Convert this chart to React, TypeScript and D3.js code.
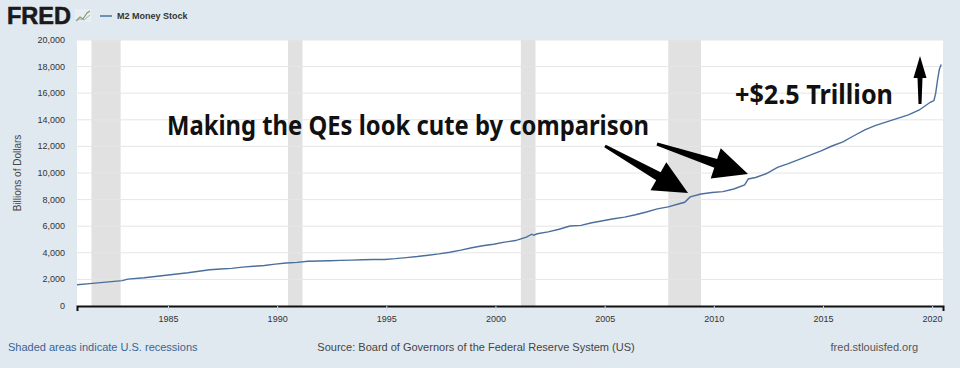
import * as d3 from "d3";
import { useEffect, useRef } from "react";

// M2 money stock, billions of dollars
const dates = [
  "1980-11", "1981-06", "1981-12", "1982-06", "1982-12", "1983-03", "1983-12",
  "1984-06", "1984-12", "1985-06", "1985-12", "1986-06", "1986-12", "1987-06",
  "1987-12", "1988-06", "1988-12", "1989-06", "1989-12", "1990-06", "1990-12",
  "1991-06", "1991-12", "1992-06", "1992-12", "1993-06", "1993-12", "1994-06",
  "1994-12", "1995-06", "1995-12", "1996-06", "1996-12", "1997-06", "1997-12",
  "1998-06", "1998-12", "1999-06", "1999-12", "2000-06", "2000-12", "2001-06",
  "2001-09", "2001-10", "2001-12", "2002-06", "2002-12", "2003-06", "2003-12",
  "2004-06", "2004-12", "2005-06", "2005-12", "2006-06", "2006-12", "2007-06",
  "2007-12", "2008-06", "2008-09", "2008-12", "2009-06", "2009-12", "2010-06",
  "2010-12", "2011-06", "2011-08", "2011-12", "2012-06", "2012-12", "2013-06",
  "2013-12", "2014-06", "2014-12", "2015-06", "2015-12", "2016-06", "2016-12",
  "2017-06", "2017-12", "2018-06", "2018-12", "2019-06", "2019-12", "2020-02",
  "2020-03", "2020-04", "2020-05", "2020-06",
];
const m2 = [
  1595, 1680, 1755, 1830, 1910, 2020, 2125,
  2220, 2310, 2410, 2500, 2610, 2730, 2780,
  2830, 2920, 2990, 3040, 3150, 3230, 3280,
  3360, 3380, 3400, 3430, 3450, 3480, 3500,
  3500, 3560, 3640, 3720, 3820, 3920, 4040,
  4200, 4380, 4530, 4640, 4800, 4920, 5180,
  5400, 5320, 5430, 5570, 5770, 6010, 6060,
  6260, 6410, 6560, 6680, 6860, 7070, 7300,
  7450, 7690, 7800, 8200, 8420, 8530, 8600,
  8800, 9100, 9550, 9660, 9960, 10430, 10710,
  11030, 11350, 11670, 12030, 12340, 12800, 13250,
  13580, 13850, 14110, 14370, 14740, 15320, 15450,
  16000, 17000, 17800, 18150,
];

const recessionStarts = ["1981-07", "1990-07", "2001-03", "2007-12"];
const recessionEnds = ["1982-11", "1991-03", "2001-11", "2009-06"];

const yTicks = [0, 2000, 4000, 6000, 8000, 10000, 12000, 14000, 16000, 18000, 20000];
const xTickYears = [1985, 1990, 1995, 2000, 2005, 2010, 2015, 2020];

export default function App() {
  const ref = useRef<SVGSVGElement>(null);

  useEffect(() => {
    const svg = d3.select(ref.current);
    svg.selectAll("*").remove();

    const W = 960, H = 368;
    const margin = { top: 40, left: 77, right: 17, bottom: 62 };
    const width = W - margin.left - margin.right;
    const height = H - margin.top - margin.bottom;

    const parse = d3.timeParse("%Y-%m");
    const data = dates.map((d, i) => ({ date: parse(d) as Date, value: m2[i] }));

    // background
    svg.append("rect").attr("width", W).attr("height", H).attr("fill", "#e1e9f0");

    const g = svg.append("g").attr("transform", `translate(${margin.left},${margin.top})`);

    const X = d3.scaleTime()
      .domain([parse("1980-11") as Date, parse("2020-07") as Date])
      .range([0, width]);
    const Y = d3.scaleLinear().domain([0, 20000]).range([height, 0]);

    g.append("rect").attr("width", width).attr("height", height).attr("fill", "#ffffff");

    // recession bars
    g.selectAll("rect.rec")
      .data(recessionStarts.map((s, i) => [parse(s) as Date, parse(recessionEnds[i]) as Date]))
      .join("rect")
      .attr("class", "rec")
      .attr("x", (d) => X(d[0]))
      .attr("width", (d) => X(d[1]) - X(d[0]))
      .attr("y", 0)
      .attr("height", height)
      .attr("fill", "#e1e1e1");

    // gridlines
    g.selectAll("line.grid")
      .data(yTicks.slice(1))
      .join("line")
      .attr("class", "grid")
      .attr("x1", 0).attr("x2", width)
      .attr("y1", (d) => Y(d)).attr("y2", (d) => Y(d))
      .attr("stroke", "#e6e6e6")
      .attr("stroke-width", 1);

    // y labels
    g.selectAll("text.ylab")
      .data(yTicks)
      .join("text")
      .attr("class", "ylab")
      .attr("x", -12)
      .attr("y", (d) => Y(d) + 3)
      .attr("text-anchor", "end")
      .attr("font-family", "Liberation Sans, Arial, sans-serif")
      .attr("font-size", 9)
      .attr("fill", "#333")
      .text((d) => d3.format(",")(d));

    // x axis
    const xAxis = g.append("g")
      .attr("transform", `translate(0,${height})`)
      .call(
        d3.axisBottom(X)
          .tickValues(xTickYears.map((y) => new Date(y, 0, 1)))
          .tickFormat(d3.timeFormat("%Y") as any)
          .tickSize(5)
          .tickPadding(5)
      );
    xAxis.select(".domain").attr("stroke", "#111").attr("stroke-width", 2);
    xAxis.selectAll(".tick line").attr("stroke", "#ccd6eb");
    xAxis.selectAll("text")
      .attr("font-family", "Liberation Sans, Arial, sans-serif")
      .attr("font-size", 9)
      .attr("fill", "#333");

    // series line
    const line = d3.line<{ date: Date; value: number }>()
      .x((d) => X(d.date))
      .y((d) => Y(d.value));
    g.append("path")
      .datum(data)
      .attr("d", line)
      .attr("fill", "none")
      .attr("stroke", "#4a6f9c")
      .attr("stroke-width", 1.4);

    // y title
    svg.append("text")
      .attr("transform", `translate(21,${margin.top + height / 2}) rotate(-90)`)
      .attr("text-anchor", "middle")
      .attr("font-family", "Liberation Sans, Arial, sans-serif")
      .attr("font-size", 10)
      .attr("fill", "#444")
      .text("Billions of Dollars");

    // header
    svg.append("text")
      .attr("x", 7).attr("y", 24)
      .attr("font-family", "Liberation Sans, Arial, sans-serif")
      .attr("font-weight", "bold")
      .attr("font-size", 24)
      .attr("textLength", 64)
      .attr("lengthAdjust", "spacingAndGlyphs")
      .attr("fill", "#1a1a1a")
      .attr("stroke", "#1a1a1a")
      .attr("stroke-width", 0.6)
      .text("FRED");
    const icon = svg.append("g").attr("transform", "translate(75,9)");
    icon.append("rect").attr("x", 0).attr("y", 0).attr("width", 16).attr("height", 13).attr("fill", "#e9eef2");
    icon.append("polyline")
      .attr("points", "1,12 5,8 8,10 12,4 15,2")
      .attr("fill", "none").attr("stroke", "#7fa06a").attr("stroke-width", 1.2);
    icon.append("polyline")
      .attr("points", "1,12 5,10 9,11 15,6")
      .attr("fill", "none").attr("stroke", "#9bb0c4").attr("stroke-width", 1);
    svg.append("line")
      .attr("x1", 100).attr("x2", 112).attr("y1", 16).attr("y2", 16)
      .attr("stroke", "#4572a7").attr("stroke-width", 1.5);
    svg.append("text")
      .attr("x", 117).attr("y", 19)
      .attr("font-family", "Liberation Sans, Arial, sans-serif")
      .attr("font-weight", "bold")
      .attr("font-size", 9)
      .attr("fill", "#333")
      .text("M2 Money Stock");

    // footer
    const footer = [
      { x: 8, anchor: "start", color: "#3a6390", text: "Shaded areas indicate U.S. recessions" },
      { x: 476, anchor: "middle", color: "#444", text: "Source: Board of Governors of the Federal Reserve System (US)" },
      { x: 918, anchor: "end", color: "#555", text: "fred.stlouisfed.org" },
    ];
    svg.selectAll("text.foot")
      .data(footer)
      .join("text")
      .attr("class", "foot")
      .attr("x", (d) => d.x)
      .attr("y", 351)
      .attr("text-anchor", (d) => d.anchor)
      .attr("font-family", "Liberation Sans, Arial, sans-serif")
      .attr("font-size", 11)
      .attr("fill", (d) => d.color)
      .text((d) => d.text);

    // annotations
    svg.append("text")
      .attr("x", 167).attr("y", 135)
      .attr("font-family", "Noto Sans, sans-serif")
      .attr("font-weight", "bold")
      .attr("font-size", 27)
      .attr("textLength", 482)
      .attr("lengthAdjust", "spacingAndGlyphs")
      .attr("fill", "#111")
      .text("Making the QEs look cute by comparison");
    svg.append("text")
      .attr("x", 735).attr("y", 104)
      .attr("font-family", "Noto Sans, sans-serif")
      .attr("font-weight", "bold")
      .attr("font-size", 26)
      .attr("textLength", 158)
      .attr("lengthAdjust", "spacingAndGlyphs")
      .attr("fill", "#111")
      .text("+$2.5 Trillion");

    // tapered arrow: thin tail, thick near head
    const arrow = (x1: number, y1: number, x2: number, y2: number, tail: number, neck: number, headW: number, headL: number) => {
      const dx = x2 - x1, dy = y2 - y1;
      const len = Math.hypot(dx, dy);
      const ux = dx / len, uy = dy / len;
      const px = -uy, py = ux;
      const bx = x2 - ux * headL, by = y2 - uy * headL;
      const pts = [
        [x1 + px * tail / 2, y1 + py * tail / 2],
        [bx + px * neck / 2, by + py * neck / 2],
        [bx + px * headW / 2, by + py * headW / 2],
        [x2, y2],
        [bx - px * headW / 2, by - py * headW / 2],
        [bx - px * neck / 2, by - py * neck / 2],
        [x1 - px * tail / 2, y1 - py * tail / 2],
      ];
      svg.append("polygon").attr("points", pts.map((p) => p.join(",")).join(" ")).attr("fill", "#000");
    };
    arrow(605, 146, 688, 193, 3, 9, 32, 34);
    arrow(657, 144, 748, 174, 3, 9, 32, 34);
    arrow(920, 104, 920, 56, 3, 5, 13, 22);
  }, []);

  return (
    <svg
      ref={ref}
      width={960}
      height={368}
      style={{ position: "absolute", left: 0, top: 0 }}
    />
  );
}
